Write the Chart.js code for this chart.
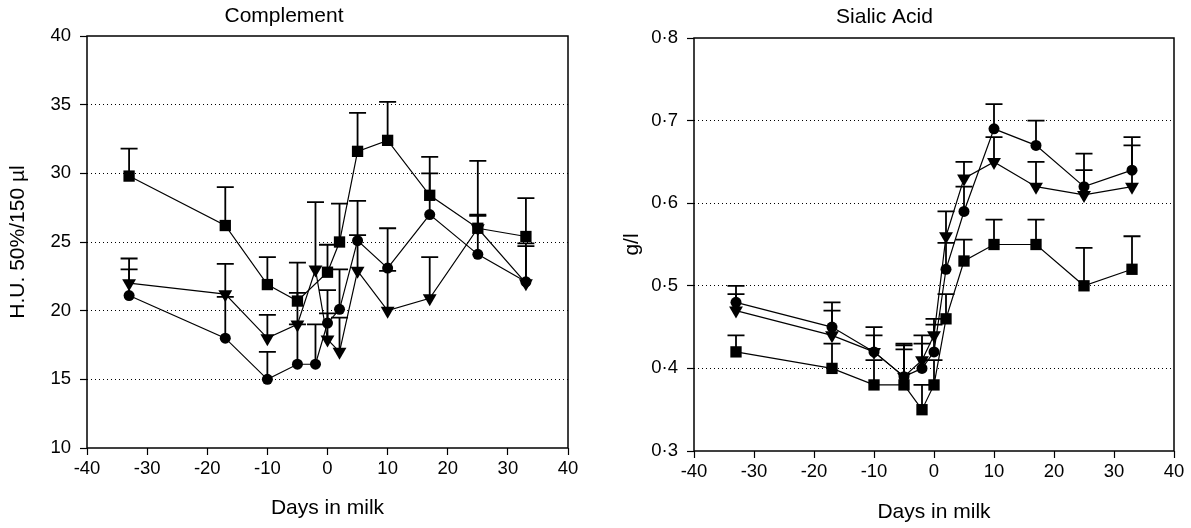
<!DOCTYPE html>
<html>
<head>
<meta charset="utf-8">
<script src="https://cdn.jsdelivr.net/npm/chart.js@4"></script>
<style>
  html, body { margin: 0; padding: 0; background: #fff; }
  #wrap { position: relative; width: 1191px; height: 528px; }
  #leftChart { position: absolute; left: 0; top: 0; }
  #rightChart { position: absolute; left: 595px; top: 0; }
</style>
</head>
<body>
<div id="wrap">
  <canvas id="leftChart" width="595" height="528"></canvas>
  <canvas id="rightChart" width="596" height="528"></canvas>
</div>
<script>
// Days in milk (shared by both panels)
const days = [-33, -17, -10, -5, -2, 0, 2, 5, 10, 17, 25, 33];
const xTicks = [-40, -30, -20, -10, 0, 10, 20, 30, 40];

// Complement (H.U. 50%/150 µl), value and top of error bar
const compSquare = [29.8, 26.2, 21.9, 20.7, null, 22.8, 25.0, 31.6, 32.4, 28.4, 26.0, 25.4];
const compSquareErr = [31.8, 29.0, 23.9, 21.3, null, 24.8, 27.8, 34.4, 35.2, 31.2, 30.9, 28.2];
const compCircle = [21.1, 18.0, 15.0, 16.1, 16.1, 19.1, 20.1, 25.1, 23.1, 27.0, 24.1, 22.1];
const compCircleErr = [23.0, 21.0, 17.0, 19.0, 19.0, 21.5, 23.0, 28.0, 26.0, 30.0, 27.0, 24.9];
const compTriangle = [22.0, 21.2, 18.0, 19.0, 23.0, 17.9, 17.0, 22.9, 20.0, 20.9, 26.0, 22.0];
const compTriangleErr = [23.8, 23.4, 19.7, 23.5, 27.9, 19.8, 19.5, 25.5, 22.9, 23.9, 26.9, 24.7];
const compYTicks = [10, 15, 20, 25, 30, 35, 40];

// Sialic acid (g/l)
const sialicCircle = [0.48, 0.45, 0.42, 0.39, 0.40, 0.42, 0.52, 0.59, 0.69, 0.67, 0.62, 0.64];
const sialicCircleErr = [0.50, 0.48, 0.45, 0.43, 0.43, 0.453, 0.552, 0.62, 0.72, 0.70, 0.66, 0.68];
const sialicTriangle = [0.47, 0.44, 0.42, 0.39, 0.41, 0.44, 0.56, 0.63, 0.65, 0.62, 0.61, 0.62];
const sialicTriangleErr = [0.49, 0.47, 0.44, 0.428, 0.44, 0.46, 0.59, 0.65, 0.68, 0.65, 0.64, 0.67];
const sialicSquare = [0.42, 0.40, 0.38, 0.38, 0.35, 0.38, 0.46, 0.53, 0.55, 0.55, 0.50, 0.52];
const sialicSquareErr = [0.44, 0.43, 0.41, 0.423, 0.38, 0.41, 0.49, 0.556, 0.58, 0.58, 0.546, 0.56];
const sialicYTicks = [0.3, 0.4, 0.5, 0.6, 0.7, 0.8];

const FONT = "'Liberation Sans', Arial, Helvetica, sans-serif";

// upward error bars + frame around the plot area
const errorBars = {
    id: "errorBars",
    beforeDatasetsDraw(chart) {
        const ctx = chart.ctx;
        const xs = chart.scales.x, ys = chart.scales.y;
        ctx.save();
        ctx.strokeStyle = "#000";
        ctx.lineWidth = 1.8;
        chart.data.datasets.forEach(ds => {
            ds.data.forEach((p, i) => {
                const top = ds.errTop[i];
                if (p.y == null || top == null) return;
                const px = xs.getPixelForValue(p.x);
                const py = ys.getPixelForValue(p.y);
                const ty = ys.getPixelForValue(top);
                ctx.beginPath();
                ctx.moveTo(px, py);
                ctx.lineTo(px, ty);
                ctx.moveTo(px - 8.5, ty);
                ctx.lineTo(px + 8.5, ty);
                ctx.stroke();
            });
        });
        ctx.restore();
    },
    afterDraw(chart) {
        const a = chart.chartArea, ctx = chart.ctx;
        ctx.save();
        ctx.setLineDash([]);
        ctx.strokeStyle = "#000";
        ctx.lineWidth = 1.5;
        ctx.strokeRect(a.left, a.top, a.right - a.left, a.bottom - a.top);
        ctx.restore();
    }
};

function series(vals, errs, style, radius) {
    return {
        data: days.map((d, i) => ({ x: d, y: vals[i] })),
        errTop: errs,
        borderColor: "#000",
        borderWidth: 1.2,
        backgroundColor: "#000",
        pointStyle: style,
        pointRadius: radius,
        pointRotation: style === "triangle" ? 180 : 0,
        pointBorderWidth: 0,
        spanGaps: true,
        tension: 0
    };
}

function makeChart(id, cfg) {
    const yt = cfg.yTicks;
    return new Chart(document.getElementById(id), {
        type: "line",
        data: {
            datasets: [
                series(cfg.square, cfg.squareErr, "rect", 8),
                series(cfg.circle, cfg.circleErr, "circle", 5.5),
                series(cfg.triangle, cfg.triangleErr, "triangle", 8)
            ]
        },
        options: {
            responsive: false,
            animation: false,
            devicePixelRatio: 1,
            layout: { padding: { left: 0, right: cfg.padRight, top: 0, bottom: 0 } },
            plugins: {
                legend: { display: false },
                tooltip: { enabled: false },
                title: {
                    display: true,
                    text: cfg.title,
                    color: "#000",
                    font: { family: FONT, size: 21, weight: "normal" },
                    padding: { top: cfg.titleTop, bottom: cfg.titleGap }
                }
            },
            scales: {
                x: {
                    type: "linear",
                    min: -40,
                    max: 40,
                    afterBuildTicks: s => { s.ticks = xTicks.map(v => ({ value: v })); },
                    afterFit: s => { s.height = cfg.xHeight; },
                    grid: { drawOnChartArea: false, tickLength: 7, tickColor: "#000", tickWidth: 1.2 },
                    border: { display: false },
                    ticks: { color: "#000", padding: 3, maxRotation: 0, font: { family: FONT, size: 18.5 } },
                    title: {
                        display: true,
                        text: "Days in milk",
                        color: "#000",
                        font: { family: FONT, size: 21 },
                        padding: { top: 0, bottom: cfg.xTitlePad }
                    }
                },
                y: {
                    type: "linear",
                    min: yt[0],
                    max: yt[yt.length - 1],
                    afterBuildTicks: s => { s.ticks = yt.map(v => ({ value: v })); },
                    afterFit: s => { s.width = cfg.yWidth; },
                    grid: {
                        color: c => (c.tick && (c.tick.value === yt[0] || c.tick.value === yt[yt.length - 1])) ? "rgba(0,0,0,0)" : "#000",
                        lineWidth: 1,
                        tickLength: 7,
                        tickColor: "#000",
                        tickWidth: 1.2,
                        tickBorderDash: []
                    },
                    border: { display: false, dash: [1, 3] },
                    ticks: {
                        color: "#000",
                        padding: 9,
                        font: { family: FONT, size: 18.5 },
                        callback: cfg.yLabel
                    },
                    title: {
                        display: true,
                        text: cfg.yTitle,
                        color: "#000",
                        font: { family: FONT, size: 21 },
                        padding: { top: cfg.yTitlePad, bottom: 0 }
                    }
                }
            }
        },
        plugins: [errorBars]
    });
}

makeChart("leftChart", {
    title: "Complement",
    yTitle: "H.U. 50%/150 µl",
    square: compSquare, squareErr: compSquareErr,
    circle: compCircle, circleErr: compCircleErr,
    triangle: compTriangle, triangleErr: compTriangleErr,
    yTicks: compYTicks,
    yLabel: v => String(v),
    titleTop: 3.5, titleGap: 7.3, padRight: 27, xHeight: 80, xTitlePad: 7.4, yWidth: 87, yTitlePad: 5.4
});

makeChart("rightChart", {
    title: "Sialic Acid",
    yTitle: "g/l",
    square: sialicSquare, squareErr: sialicSquareErr,
    circle: sialicCircle, circleErr: sialicCircleErr,
    triangle: sialicTriangle, triangleErr: sialicTriangleErr,
    yTicks: sialicYTicks,
    yLabel: v => Number(v).toFixed(1).replace(".", "·"),
    titleTop: 4.4, titleGap: 8.4, padRight: 17, xHeight: 77, xTitlePad: 3.4, yWidth: 99, yTitlePad: 24.4
});
</script>
</body>
</html>
